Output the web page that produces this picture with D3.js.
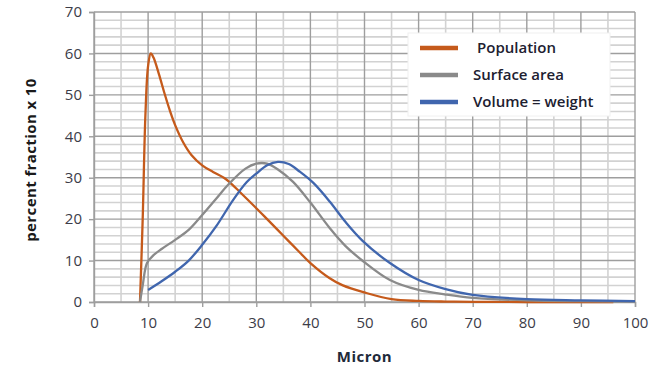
<!DOCTYPE html>
<html>
<head>
<meta charset="utf-8">
<script src="https://cdn.jsdelivr.net/npm/d3@7"></script>
<style>
  body { margin: 0; background: #fff; }
  text { font-family: "Open Sans", "Liberation Sans", sans-serif; }
</style>
</head>
<body>
<script>
const width = 661;
const height = 366;
const margin = { top: 12, right: 26, bottom: 64, left: 94 };

// values (micron -> percent fraction x 10)
const populationX = [8.5, 9, 9.5, 10, 10.5, 11, 12, 13, 14, 15, 16.5, 18, 20, 22, 24, 25, 27, 29.5, 32, 35, 38, 40, 43.5, 46, 50, 55, 60, 65, 70, 80, 90, 96];
const populationY = [0, 20, 45, 57, 60, 59, 55, 50.5, 46.3, 42.7, 38.5, 35.5, 33, 31.4, 30, 29, 26.5, 23.3, 20, 16, 12, 9.4, 5.8, 4, 2.3, 0.7, 0.25, 0.1, 0.05, 0, 0, 0];
const surfaceX = [8.5, 9, 9.8, 11, 12.5, 15, 17.5, 20, 22.5, 25, 28, 30, 32, 34, 36.8, 40, 43.6, 46.5, 49.7, 54.7, 60, 65, 70, 80, 90, 100];
const surfaceY = [0, 4, 9.4, 11.3, 12.8, 15, 17.4, 21, 24.8, 28.6, 32.2, 33.4, 33.4, 32, 29, 24, 17.8, 13.5, 9.9, 5.3, 2.9, 1.8, 1, 0.4, 0.2, 0.1];
const volumeX = [10, 12.5, 15, 17.5, 20, 22.7, 25.7, 28.2, 30, 32, 34, 36, 38, 40.5, 43.6, 46.5, 49.7, 54.7, 60, 65, 70, 80, 90, 100];
const volumeY = [2.9, 5, 7.3, 10, 13.8, 18.5, 24.6, 28.9, 31, 33, 33.8, 33.3, 31.5, 28.8, 24.2, 19.3, 14.7, 9.4, 5.3, 3.1, 1.7, 0.7, 0.4, 0.2];

const seriesNames = ["Population", "Surface area", "Volume = weight"];
const seriesColors = ["#c55a1b", "#8a8a8a", "#4066ae"];
const xTicks = [0, 10, 20, 30, 40, 50, 60, 70, 80, 90, 100];
const yTicks = [0, 10, 20, 30, 40, 50, 60, 70];

const series = [
  { name: seriesNames[0], color: seriesColors[0], pts: d3.zip(populationX, populationY) },
  { name: seriesNames[1], color: seriesColors[1], pts: d3.zip(surfaceX, surfaceY) },
  { name: seriesNames[2], color: seriesColors[2], pts: d3.zip(volumeX, volumeY) }
];

const svg = d3.select("body").append("svg")
  .attr("width", width)
  .attr("height", height);

const x = d3.scaleLinear().domain([0, 100]).range([margin.left, width - margin.right]);
const y = d3.scaleLinear().domain([0, 70]).range([height - margin.bottom, margin.top]);

// grid: minor first, then major
const grid = svg.append("g");
grid.selectAll(".vminor")
  .data(d3.range(5, 100, 10))
  .join("line")
  .attr("x1", d => x(d)).attr("x2", d => x(d))
  .attr("y1", y(0)).attr("y2", y(70))
  .attr("stroke", "#d2d2d2")
  .attr("stroke-width", 1.6);
grid.selectAll(".hminor")
  .data(d3.range(2, 70, 2).filter(d => d % 10 !== 0))
  .join("line")
  .attr("x1", x(0)).attr("x2", x(100))
  .attr("y1", d => y(d)).attr("y2", d => y(d))
  .attr("stroke", "#d2d2d2")
  .attr("stroke-width", 1.6);
grid.selectAll(".vmajor")
  .data(xTicks)
  .join("line")
  .attr("x1", d => x(d)).attr("x2", d => x(d))
  .attr("y1", y(0)).attr("y2", y(70))
  .attr("stroke", "#9e9e9e")
  .attr("stroke-width", 1.4);
grid.selectAll(".hmajor")
  .data(yTicks)
  .join("line")
  .attr("x1", x(0)).attr("x2", x(100))
  .attr("y1", d => y(d)).attr("y2", d => y(d))
  .attr("stroke", "#9e9e9e")
  .attr("stroke-width", 1.4);

// axes
const xAxis = svg.append("g")
  .attr("transform", `translate(0,${y(0)})`)
  .call(d3.axisBottom(x).tickValues(xTicks).tickSize(5).tickPadding(10));
const yAxis = svg.append("g")
  .attr("transform", `translate(${x(0)},0)`)
  .call(d3.axisLeft(y).tickValues(yTicks).tickSize(5).tickPadding(7));
[xAxis, yAxis].forEach(a => {
  a.select(".domain").attr("stroke", "#9e9e9e").attr("stroke-width", 1.4);
  a.selectAll(".tick line").attr("stroke", "#9e9e9e").attr("stroke-width", 1.4);
  a.selectAll(".tick text")
    .attr("font-size", 15)
    .attr("fill", "#3c3c48")
    .style("font-family", "'Open Sans', sans-serif");
});

// lines
const line = d3.line()
  .x(d => x(d[0]))
  .y(d => y(d[1]))
  .curve(d3.curveCatmullRom.alpha(0.5));

svg.append("g")
  .selectAll("path")
  .data(series)
  .join("path")
  .attr("d", d => line(d.pts))
  .attr("fill", "none")
  .attr("stroke", d => d.color)
  .attr("stroke-width", 2.3)
  .attr("stroke-linejoin", "round");

// axis titles
svg.append("text")
  .attr("x", x(50))
  .attr("y", 362)
  .attr("text-anchor", "middle")
  .attr("font-size", 15)
  .attr("font-weight", "bold")
  .attr("letter-spacing", 0.5)
  .attr("fill", "#1e2a3a")
  .text("Micron");
svg.append("text")
  .attr("transform", `translate(36,160) rotate(-90)`)
  .attr("text-anchor", "middle")
  .attr("font-size", 15)
  .attr("font-weight", "bold")
  .attr("letter-spacing", 0.4)
  .attr("fill", "#1a1a1a")
  .text("percent fraction x 10");

// legend
const legend = svg.append("g").attr("transform", "translate(408,33)");
legend.append("rect")
  .attr("width", 202)
  .attr("height", 83)
  .attr("fill", "#fff")
  .attr("stroke", "#f0f0f0");
series.forEach((s, i) => {
  const ly = 15 + i * 27;
  legend.append("line")
    .attr("x1", 12).attr("x2", 50)
    .attr("y1", ly).attr("y2", ly)
    .attr("stroke", s.color)
    .attr("stroke-width", 4.5);
  legend.append("text")
    .attr("x", i === 0 ? 69 : 65)
    .attr("y", ly + 5)
    .attr("font-size", 15)
    .attr("font-weight", 600)
    .attr("fill", "#202030")
    .text(s.name);
});
</script>
</body>
</html>
